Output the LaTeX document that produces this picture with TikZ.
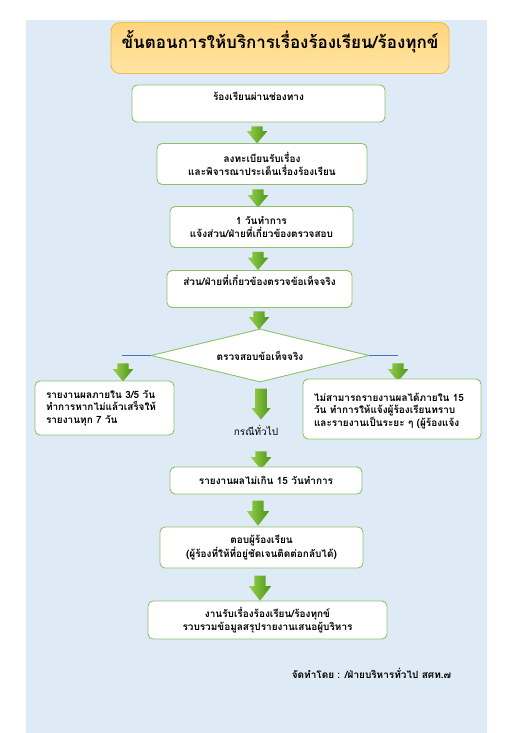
\documentclass[tikz,border=0pt]{standalone}
\usepackage{fontspec}
\setmainfont[Script=Thai]{Loma}
\usetikzlibrary{shapes.geometric,shapes.arrows}
\definecolor{bgblue}{HTML}{DEEAF6}
\definecolor{boxgreen}{HTML}{8DC26A}
\definecolor{titletop}{HTML}{FFD57E}
\definecolor{titlebot}{HTML}{FFE4A4}
\definecolor{titleline}{HTML}{F2C040}
\definecolor{arrowlight}{HTML}{9AD04E}
\definecolor{arrowdark}{HTML}{4A9416}
\definecolor{lineblue}{HTML}{4472C4}

\begin{document}
\begin{tikzpicture}[x=1pt,y=-1pt,font=\bfseries\fontsize{10}{12.5}\selectfont,
  box/.style={draw=boxgreen,line width=0.9pt,fill=white,rounded corners=5pt,inner sep=0pt,align=center},
  sidebox/.style={box,align=left},
  titlebox/.style={draw=titleline,line width=0.9pt,top color=titletop,bottom color=titlebot,rounded corners=9pt,inner sep=0pt,font=\bfseries\fontsize{17}{20}\selectfont},
  garrow/.style={single arrow,shape border rotate=270,inner xsep=5.5pt,inner ysep=0pt,minimum width=20pt,single arrow head extend=4.5pt,single arrow tip angle=80,left color=arrowlight,right color=arrowdark,draw=none},
  branch/.style={draw=lineblue,line width=0.6pt}]
  \useasboundingbox (0,0) rectangle (511,733);
  \fill[bgblue] (26,20) rectangle (487,733);

  % title
  \node[titlebox,minimum width=338,minimum height=51,text depth=17pt] (head) at (280,48) {ขั้นตอนการให้บริการเรื่องร้องเรียน/ร้องทุกข์};

  % main column
  \node[box,minimum width=253,minimum height=37,text depth=14pt] (b1) at (258.5,103.5) {ร้องเรียนผ่านช่องทาง};
  \node[garrow,minimum height=17] (a1) at (257,131.5) {};
  \node[box,minimum width=210,minimum height=41] (b2) at (262,164) {ลงทะเบียนรับเรื่อง\\และพิจารณาประเด็นเรื่องร้องเรียน};
  \node[garrow,minimum height=18] (a2) at (258,195) {};
  \node[box,minimum width=183,minimum height=41] (b3) at (261.5,227) {1 วันทำการ\\แจ้งส่วน/ฝ่ายที่เกี่ยวข้องตรวจสอบ};
  \node[garrow,minimum height=18] (a3) at (258,257.5) {};
  \node[box,minimum width=185,minimum height=37,text depth=16.5pt] (b4) at (259.5,289) {ส่วน/ฝ่ายที่เกี่ยวข้องตรวจข้อเท็จจริง};
  \node[garrow,minimum height=18] (a4) at (259,317) {};

  % decision
  \node[diamond,aspect=4.1,draw=boxgreen,fill=white,line width=0.9pt,minimum width=218,minimum height=53,inner sep=0pt] (chk) at (260,355.5) {ตรวจสอบข้อเท็จจริง};
  \coordinate (lend) at (122,355.5);
  \coordinate (rend) at (398,355.5);
  \draw[branch] (chk.west) -- (lend);
  \draw[branch] (chk.east) -- (rend);
  \node[garrow,minimum height=18] (al) at (123,369) {};
  \node[garrow,minimum height=18] (ar) at (398,369) {};
  \node[sidebox,minimum width=139,minimum height=54,text width=117] (lbox) at (104.5,408) {รายงานผลภายใน 3/5 วัน\\ทำการหากไม่แล้วเสร็จให้\\รายงานทุก 7 วัน};
  \node[sidebox,minimum width=178,minimum height=60,text width=156,text depth=24pt] (rbox) at (392,409) {ไม่สามารถรายงานผลได้ภายใน 15\\วัน ทำการให้แจ้งผู้ร้องเรียนทราบ\\และรายงานเป็นระยะ ๆ (ผู้ร้องแจ้ง};
  \node[garrow,minimum height=31,minimum width=19pt,single arrow head extend=3.5pt] (ac) at (261,400.5) {};
  \node[font=\fontsize{10}{12.5}\selectfont] (gen) at (256,430) {กรณีทั่วไป};
  \node[garrow,minimum height=18] (a5) at (261,457) {};

  % lower column
  \node[box,minimum width=192,minimum height=27] (b5) at (266,480.5) {รายงานผลไม่เกิน 15 วันทำการ};
  \node[garrow,minimum height=25,minimum width=22pt,single arrow head extend=5.5pt,single arrow tip angle=75] (a6) at (258,509.5) {};
  \node[box,minimum width=203,minimum height=41] (b6) at (261.5,547.5) {ตอบผู้ร้องเรียน\\(ผู้ร้องที่ให้ที่อยู่ชัดเจนติดต่อกลับได้)};
  \node[garrow,minimum height=25,minimum width=22pt,single arrow head extend=5.5pt,single arrow tip angle=75] (a7) at (260,584.5) {};
  \node[box,minimum width=239,minimum height=38] (b7) at (267.5,620) {งานรับเรื่องร้องเรียน/ร้องทุกข์\\รวบรวมข้อมูลสรุปรายงานเสนอผู้บริหาร};

  \node (foot) at (371.5,673) {จัดทำโดย : /ฝ่ายบริหารทั่วไป สศท.๗};
\end{tikzpicture}
\end{document}
